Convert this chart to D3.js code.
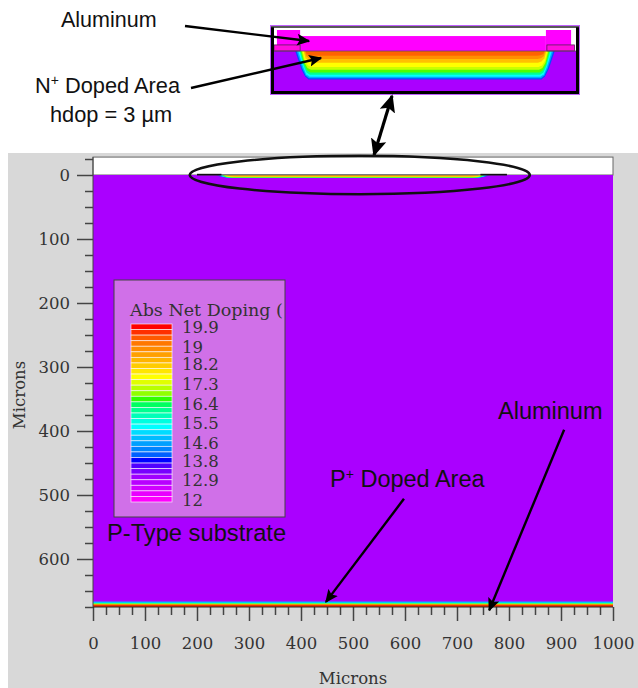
<!DOCTYPE html>
<html>
  <head>
    <meta charset="UTF-8">
    <title>Abs Net Doping</title>
    <style>
      html, body { margin: 0; padding: 0; background: #fff; }
      svg { display: block; }
      .serif { font-family: "DejaVu Serif", serif; fill: #333; }
      .sans { font-family: "Liberation Sans", Arial, sans-serif; fill: #111; }
      .axis path { display: none; }
      .axis line { stroke: #444; stroke-width: 1.5px; }
      .axis text { font: 16.5px "DejaVu Serif", serif; fill: #333; }
    </style>
    <script src="https://d3js.org/d3.v7.min.js"></script>
  </head>
  <body>
    <script>
      /* ==== Values ==== */
      var xMajorTicks = [0, 100, 200, 300, 400, 500, 600, 700, 800, 900, 1000];
      var xMinorTicks = [25, 50, 75, 125, 150, 175, 225, 250, 275, 325, 350, 375, 425, 450, 475,
                         525, 550, 575, 625, 650, 675, 725, 750, 775, 825, 850, 875, 925, 950, 975];
      var yMajorTicks = [0, 100, 200, 300, 400, 500, 600];
      var yMinorTicks = [-25, 25, 50, 75, 125, 150, 175, 225, 250, 275, 325, 350, 375, 425, 450, 475,
                         525, 550, 575, 625, 650, 675];

      // Legend
      var legendLabels = [19.9, 19, 18.2, 17.3, 16.4, 15.5, 14.6, 13.8, 12.9, 12];
      var legendColors = ["#ff0000", "#ff3000", "#ff5a00", "#ff7800", "#ff8c00", "#ffa000", "#ffb400", "#ffcc00",
                          "#ffe600", "#ffff00", "#e0ff00", "#b8ff00", "#90ff00", "#30ff00", "#00ff60", "#00ff90",
                          "#00ffb8", "#00ffe0", "#00ffff", "#00dcff", "#00bcff", "#00a0ff", "#0084ff", "#0060ff",
                          "#0000ff", "#5000ff", "#7800ff", "#a000ff", "#b800ff", "#d000ff", "#e800ff", "#ff00ff"];

      // Front junction contours, outermost first (microns)
      var contourColors = ["#0050ff", "#00a8ff", "#00ffff", "#00ff90", "#50ff00", "#c8ff00", "#ffff00", "#ffc000", "#ff9000", "#ff6400"];
      var contourDepth = [3.05, 2.93, 2.76, 2.55, 2.3, 2.02, 1.72, 1.25, 0.85, 0.5];
      var contourEdgeTop = [237, 240, 243, 246, 248, 250, 252, 254, 256, 258];
      var contourEdgeMid = [249, 251, 253, 254, 255, 256, 257, 258, 259, 260];
      var contourEdgeLow = [257, 258, 259, 260, 261, 262, 263, 264, 265, 266];

      // Back side P+ layer, top of each band (microns)
      var backColors = ["#00c8ff", "#00ffb0", "#b0ff00", "#ff9c00", "#f03000"];
      var backDepth = [666.5, 668.6, 669.6, 670.6, 671.6];

      // Metal and oxide in the close up, depth is negative above the surface
      var padLeft = [200, 247];
      var padRight = [745, 796];
      var metalCenterTop = -1.6, metalPadTop = -2.25, oxideTop = -0.65;
      var oxideSpan = [194, 247, 747, 803];

      var surfaceDepth = 0, substrateDepth = 675, plotTop = -28;

      /* ==== Scales ==== */
      var width = 638, height = 688;

      var x = d3.scaleLinear().domain([0, 1000]).range([93, 613]);
      var y = d3.scaleLinear().domain([0, 600]).range([175, 559]);
      // The thin junction is drawn thicker than true scale in the full die view
      var junctionY = d3.scaleLinear().domain([0, 3]).range([175.4, 178]);
      var insetX = d3.scaleLinear().domain([190, 810]).range([272, 578]);
      var insetY = d3.scaleLinear().domain([0, 3]).range([51, 79]);
      var legendY = d3.scaleLinear().domain([19.9, 12]).range([327, 500]);
      var legendBand = d3.scaleBand().domain(d3.range(legendColors.length)).range([324, 502]);

      var svg = d3.select("body").append("svg")
          .attr("width", width)
          .attr("height", height);

      var defs = svg.append("defs");
      defs.append("filter").attr("id", "soft")
          .append("feGaussianBlur").attr("stdDeviation", 0.55);
      defs.append("clipPath").attr("id", "legendClip")
          .append("rect").attr("x", 114).attr("y", 280).attr("width", 171).attr("height", 237);
      defs.append("clipPath").attr("id", "insetClip")
          .append("rect").attr("x", 272).attr("y", 27).attr("width", 306).attr("height", 66);

      /* ==== Background ==== */
      svg.append("rect").attr("x", 8).attr("y", 153)
          .attr("width", width - 8).attr("height", height - 153)
          .style("fill", "#d8d8d8");

      /* ==== Main plot ==== */
      svg.append("rect")
          .attr("x", x(0)).attr("y", y(plotTop))
          .attr("width", x(1000) - x(0)).attr("height", y(0) - y(plotTop))
          .style("fill", "#fff").style("stroke", "#666");

      svg.append("rect")
          .attr("x", x(0)).attr("y", y(surfaceDepth))
          .attr("width", x(1000) - x(0)).attr("height", y(substrateDepth) - y(surfaceDepth))
          .style("fill", "#aa00ff");

      // Back side layer
      svg.selectAll(".back").data(backDepth).enter().append("rect")
          .attr("class", "back")
          .attr("x", x(0))
          .attr("width", x(1000) - x(0))
          .attr("y", function(d) { return y(d); })
          .attr("height", function(d) { return y(substrateDepth) - y(d); })
          .style("fill", function(d, i) { return backColors[i]; });

      // Contour outline, mirrored about the middle of the die
      function contourPoints(i) {
          var d = contourDepth[i];
          var left = [
              [contourEdgeTop[i], 0],
              [contourEdgeMid[i], d * 0.62],
              [contourEdgeLow[i], d * 0.9],
              [contourEdgeLow[i] + 7, d]
          ];
          var right = left.map(function(p) { return [1000 - p[0], p[1]]; }).reverse();
          return left.concat(right);
      }

      function drawContours(group, sx, sy) {
          var line = d3.line()
              .x(function(p) { return sx(p[0]); })
              .y(function(p) { return sy(p[1]); });
          group.selectAll(".contour").data(contourColors).enter().append("path")
              .attr("class", "contour")
              .attr("d", function(d, i) { return line(contourPoints(i)) + "Z"; })
              .style("fill", function(d) { return d; });
      }

      drawContours(svg.append("g"), x, junctionY);

      // Metal on top of the die
      svg.append("line")
          .attr("x1", x(padLeft[0])).attr("x2", x(padRight[1]))
          .attr("y1", y(0) - 0.2).attr("y2", y(0) - 0.2)
          .style("stroke", "#666").style("stroke-width", 1);
      svg.selectAll(".metal").data([padLeft, padRight]).enter().append("rect")
          .attr("class", "metal")
          .attr("x", function(d) { return x(d[0]); })
          .attr("width", function(d) { return x(d[1]) - x(d[0]); })
          .attr("y", y(0) - 1.2)
          .attr("height", 1.6)
          .style("fill", "#111");

      /* ==== Axes ==== */
      function addAxis(axis, tr) {
          return svg.append("g").attr("class", "axis").attr("transform", tr).call(axis);
      }

      addAxis(d3.axisBottom(x).tickValues(xMajorTicks).tickFormat(d3.format("d")).tickSize(14).tickPadding(16), "translate(0," + y(substrateDepth) + ")");
      addAxis(d3.axisBottom(x).tickValues(xMinorTicks).tickSize(8).tickFormat(""), "translate(0," + y(substrateDepth) + ")");
      addAxis(d3.axisLeft(y).tickValues(yMajorTicks).tickSize(16).tickPadding(7), "translate(" + x(0) + ",0)");
      addAxis(d3.axisLeft(y).tickValues(yMinorTicks).tickSize(8).tickFormat(""), "translate(" + x(0) + ",0)");

      svg.append("line")
          .attr("x1", x(0)).attr("x2", x(1000))
          .attr("y1", y(substrateDepth)).attr("y2", y(substrateDepth))
          .style("stroke", "#222").style("stroke-width", 1);
      svg.append("line")
          .attr("x1", x(0)).attr("x2", x(0))
          .attr("y1", y(plotTop)).attr("y2", y(substrateDepth))
          .style("stroke", "#444").style("stroke-width", 1);

      svg.append("text").attr("class", "serif")
          .attr("x", 353).attr("y", 684)
          .attr("text-anchor", "middle")
          .style("font-size", "16.5px")
          .text("Microns");
      svg.append("text").attr("class", "serif")
          .attr("transform", "translate(25,395) rotate(-90)")
          .attr("text-anchor", "middle")
          .style("font-size", "16.5px")
          .text("Microns");

      /* ==== Legend ==== */
      svg.append("rect")
          .attr("x", 114).attr("y", 280).attr("width", 171).attr("height", 237)
          .style("fill", "#d070e8").style("stroke", "#444");

      var legend = svg.append("g").attr("clip-path", "url(#legendClip)");

      legend.append("text").attr("class", "serif")
          .attr("x", 130).attr("y", 315.5)
          .style("font-size", "17.5px")
          .text("Abs Net Doping (");

      legend.selectAll(".band").data(legendColors).enter().append("rect")
          .attr("class", "band")
          .attr("x", 131).attr("width", 41)
          .attr("y", function(d, i) { return legendBand(i); })
          .attr("height", legendBand.bandwidth())
          .style("fill", function(d) { return d; })
          .style("stroke", "#fff")
          .style("stroke-opacity", 0.75)
          .style("stroke-width", 0.8);

      legend.selectAll(".lab").data(legendLabels).enter().append("text")
          .attr("class", "serif lab")
          .attr("x", 182)
          .attr("y", function(d) { return legendY(d); })
          .attr("dy", "0.36em")
          .style("font-size", "16.5px")
          .text(function(d) { return d; });

      /* ==== Close up ==== */
      var inset = svg.append("g")
          .attr("clip-path", "url(#insetClip)")
          .append("g").attr("filter", "url(#soft)");

      inset.append("rect")
          .attr("x", 272).attr("y", insetY(plotTop / 4))
          .attr("width", 306).attr("height", 100)
          .style("fill", "#fff");
      inset.append("rect")
          .attr("x", 272).attr("y", insetY(0))
          .attr("width", 306).attr("height", 50)
          .style("fill", "#aa00ff");

      drawContours(inset, insetX, insetY);

      // Metal centre and pads
      inset.append("rect")
          .attr("x", insetX(padLeft[1])).attr("y", insetY(metalCenterTop))
          .attr("width", insetX(padRight[0]) - insetX(padLeft[1]))
          .attr("height", insetY(0) - insetY(metalCenterTop))
          .style("fill", "#ff00ff");
      inset.selectAll(".pad").data([padLeft, padRight]).enter().append("rect")
          .attr("class", "pad")
          .attr("x", function(d) { return insetX(d[0]); })
          .attr("width", function(d) { return insetX(d[1]) - insetX(d[0]); })
          .attr("y", insetY(metalPadTop))
          .attr("height", insetY(0) - insetY(metalPadTop))
          .style("fill", "#ff00ff");
      inset.selectAll(".oxide").data([[oxideSpan[0], oxideSpan[1]], [oxideSpan[2], oxideSpan[3]]]).enter().append("rect")
          .attr("class", "oxide")
          .attr("x", function(d) { return insetX(d[0]); })
          .attr("width", function(d) { return insetX(d[1]) - insetX(d[0]); })
          .attr("y", insetY(oxideTop))
          .attr("height", insetY(0) - insetY(oxideTop))
          .style("fill", "#ff10e0")
          .style("stroke", "#552255")
          .style("stroke-width", 0.8);
      inset.append("line")
          .attr("x1", 272).attr("x2", 578)
          .attr("y1", insetY(0)).attr("y2", insetY(0))
          .style("stroke", "#664466").style("stroke-width", 0.8);

      // Frame of the close up, the top edge is thinner in the picture
      svg.append("rect")
          .attr("x", 270.5).attr("y", 25.5).attr("width", 309).attr("height", 69)
          .style("fill", "none").style("stroke", "#c060ff").style("stroke-width", 1);
      svg.append("path")
          .attr("d", "M272.5,27V92.5H577.5V27")
          .style("fill", "none").style("stroke", "#000").style("stroke-width", 3);
      svg.append("line")
          .attr("x1", 271).attr("x2", 579).attr("y1", 27).attr("y2", 27)
          .style("stroke", "#222").style("stroke-width", 1.6);

      /* ==== Callouts ==== */
      var marker = defs.append("marker")
          .attr("id", "head")
          .attr("viewBox", "0 0 10 10")
          .attr("refX", 9).attr("refY", 5)
          .attr("markerWidth", 5.5).attr("markerHeight", 5.5)
          .attr("orient", "auto-start-reverse");
      marker.append("path").attr("d", "M0,0.5L10,5L0,9.5L2,5Z").style("fill", "#000");

      function arrow(x1, y1, x2, y2, both, w) {
          svg.append("line")
              .attr("x1", x1).attr("y1", y1).attr("x2", x2).attr("y2", y2)
              .attr("marker-end", "url(#head)")
              .attr("marker-start", both ? "url(#head)" : null)
              .style("stroke", "#000").style("stroke-width", w || 2.4);
      }

      arrow(185, 26, 309, 41);
      arrow(191, 88, 321, 58);
      arrow(392, 96, 374, 155, true, 3.2);
      arrow(x(598), y(506), x(448), y(667));
      arrow(x(906), y(398), x(762), y(680));

      svg.append("ellipse")
          .attr("cx", x(513)).attr("cy", y(0))
          .attr("rx", x(327) - x(0)).attr("ry", y(30) - y(0))
          .style("fill", "none").style("stroke", "#111").style("stroke-width", 2.6);

      function note(px, py, size, str, sup, rest) {
          var t = svg.append("text").attr("class", "sans")
              .attr("x", px).attr("y", py)
              .style("font-size", size + "px");
          t.append("tspan").text(str);
          if (sup) {
              t.append("tspan").attr("dy", -8).style("font-size", "14px").text(sup);
              t.append("tspan").attr("dy", 8).text(rest);
          }
      }

      note(61, 27, 21.5, "Aluminum");
      note(35, 93, 21.8, "N", "+", " Doped Area");
      note(50, 122, 21.8, "hdop = 3 µm");
      note(498, 419, 23.5, "Aluminum");
      note(330, 487, 23.5, "P", "+", " Doped Area");
      note(107, 541, 23.7, "P-Type substrate");
    </script>
  </body>
</html>
